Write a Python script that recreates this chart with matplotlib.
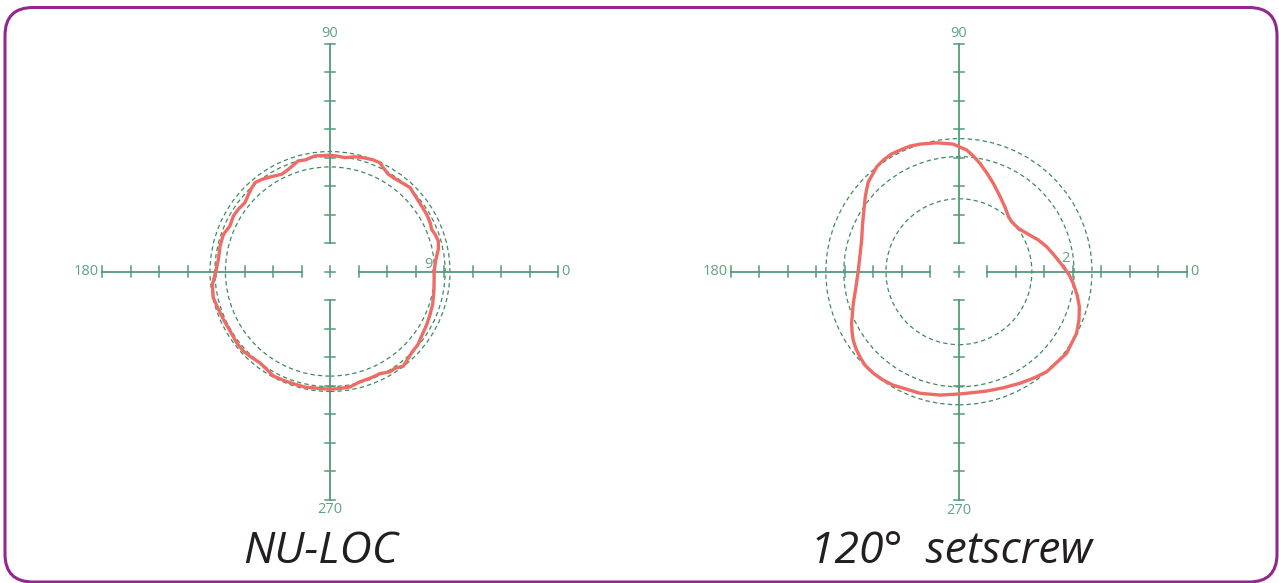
import numpy as np
import matplotlib.pyplot as plt
from matplotlib.patches import FancyBboxPatch, Circle

# Runout traces (angle in degrees, radius in tick units)

nuloc_angle = [0, 6.6, 11.6, 15.7, 19.5, 22.5, 26, 30.6, 35.5, 39.6, 43.4, 46.3, 51.1, 56, 59,
               62.8, 65.3, 68.8, 73.7, 77.7, 82.5, 86.7, 90, 97.4, 102.6, 106, 112.2, 116.4,
               121.6, 126.5, 130.2, 133.1, 136.6, 141, 145.8, 150.1, 155.5, 160.8, 166.9, 173.8,
               179.7, 186.2, 192.6, 197.8, 204.1, 210.8, 217.3, 222.5, 227.7, 232.5, 237.1,
               241.5, 247.7, 252.8, 257.8, 264.3, 270, 274.9, 279.8, 285.2, 290.5, 296.1, 300.9,
               303.9, 307.8, 311.4, 315.2, 320.5, 324.9, 331.4, 336.8, 342.3, 349.4, 356.6]
nuloc_radius = [3.65, 3.74, 3.88, 3.95, 3.91, 3.86, 3.91, 3.94, 3.95, 3.98, 4.02, 4.07, 4.01, 3.97, 3.98,
                4.09, 4.20, 4.20, 4.16, 4.12, 4.03, 4.06, 4.08, 4.09, 4.01, 4.04, 3.87, 3.81,
                3.91, 4.02, 4.08, 4.02, 3.94, 3.84, 3.89, 3.91, 3.86, 3.96, 3.96, 3.94,
                4.00, 4.15, 4.20, 4.14, 4.10, 4.08, 4.12, 4.13, 4.08, 4.04, 4.09,
                4.17, 4.15, 4.14, 4.15, 4.12, 4.13, 4.12, 4.11, 4.01, 4.00, 3.99, 4.10,
                4.09, 4.20, 4.11, 4.04, 4.01, 3.93, 3.87, 3.82, 3.78, 3.71, 3.66]
nuloc_rings = [3.67, 4.04, 4.21]
nuloc_mark = '9'

setscrew_angle = [2.7, 9.3, 15.9, 21.8, 27.3, 36.1, 43.5, 48.4, 54.7, 62.2, 68.8, 74.4, 79.0,
                  82.9, 86.4, 92.5, 99.8, 107.0, 111.3, 115.9, 119.8, 124.1, 128.0, 131.1,
                  135.2, 138.5, 141.3, 145.5, 153.4, 162.0, 170.4, 179.1, 188.3, 196.7, 205.7,
                  209.3, 212.9, 216.7, 220.6, 224.8, 229.9, 235.1, 239.9, 252.2, 261.2, 270.5,
                  276.8, 283.1, 290.9, 298.6, 304.9, 311.2, 322.8, 332.3, 338.1, 343.8, 348.8,
                  354.2, 358.3]
setscrew_radius = [3.67, 3.41, 3.20, 3.00, 2.80, 2.58, 2.55, 2.61, 2.79, 3.04, 3.33, 3.61, 3.87,
                   4.09, 4.28, 4.48, 4.59, 4.68, 4.73, 4.74, 4.76, 4.73, 4.68, 4.58,
                   4.48, 4.33, 4.21, 4.03, 3.78, 3.59, 3.52, 3.53, 3.65, 3.87, 4.18,
                   4.30, 4.42, 4.51, 4.58, 4.65, 4.66, 4.64, 4.60, 4.48, 4.38, 4.29,
                   4.27, 4.30, 4.36, 4.46, 4.56, 4.67, 4.74, 4.66, 4.54, 4.40, 4.23,
                   4.03, 3.87]
setscrew_rings = [2.56, 4.04, 4.67]
setscrew_mark = '2'

axis_ticks = [1, 2, 3, 4, 5, 6, 7, 8]
angle_labels = ['0', '90', '180', '270']
titles = ['NU-LOC', '120°  setscrew']

axis_green = '#529b76'
text_green = '#5fa382'
ring_green = '#3f8a62'
trace_red = '#ef6b66'

fig = plt.figure(figsize=(12.79, 5.83), dpi=100)


def polar_panel(ax, angle, radius, rings, mark, mark_pos):
    ax.set_xlim(-9, 9)
    ax.set_ylim(-9, 9)
    ax.set_aspect('equal')
    ax.axis('off')

    # cross-hair axes with ticks, gap in the middle
    t = np.array(axis_ticks, dtype=float)
    h = 0.19
    for d in [0, 90, 180, 270]:
        c, s = np.cos(np.radians(d)), np.sin(np.radians(d))
        ax.plot([t[0] * c, t[-1] * c], [t[0] * s, t[-1] * s], color=axis_green, lw=1.3)
        for r in t:
            ax.plot([r * c - h * s, r * c + h * s], [r * s - h * c, r * s + h * c],
                    color=axis_green, lw=1.1)
    ax.plot([-h, h], [0, 0], color=axis_green, lw=1.1)
    ax.plot([0, 0], [-h, h], color=axis_green, lw=1.1)

    # angle labels at the ends of the axes
    kw = dict(color=text_green, fontsize=10.5, family='Open Sans')
    ax.text(t[-1] + 0.12, 0, angle_labels[0], ha='left', va='center', **kw)
    ax.text(0, t[-1] + 0.1, angle_labels[1], ha='center', va='bottom', **kw)
    ax.text(-t[-1] - 0.12, 0, angle_labels[2], ha='right', va='center', **kw)
    ax.text(0, -t[-1] - 0.1, angle_labels[3], ha='center', va='top', **kw)

    for rr in rings:
        ax.add_patch(Circle((0, 0), rr, fill=False, ec=ring_green, lw=0.9,
                            linestyle=(0, (3.5, 2.5))))

    a = np.radians(np.append(angle, angle[0]))
    r = np.append(radius, radius[0])
    ax.plot(r * np.cos(a), r * np.sin(a), color=trace_red, lw=2.4, solid_joinstyle='round')

    ax.text(mark_pos[0], mark_pos[1], mark, ha='center', va='center',
            color=text_green, fontsize=10.5, family='Open Sans')


ax1 = fig.add_axes([0.05747, 0.09434, 0.4011, 0.8799])
polar_panel(ax1, nuloc_angle, nuloc_radius, nuloc_rings, nuloc_mark, (3.44, 0.26))

ax2 = fig.add_axes([0.5492, 0.0940, 0.4011, 0.8799])
polar_panel(ax2, setscrew_angle, setscrew_radius, setscrew_rings, setscrew_mark, (3.75, 0.48))

fig.text(321 / 1279, 20 / 583, titles[0], ha='center', va='baseline', fontsize=32,
         style='italic', family='Open Sans', color='#231f20')
fig.text(951 / 1279, 20 / 583, titles[1], ha='center', va='baseline', fontsize=32,
         style='italic', family='Open Sans', color='#231f20')

# rounded purple frame
frame = FancyBboxPatch((0.05, 0.01), 12.72, 5.745, boxstyle='round,pad=0,rounding_size=0.28',
                       transform=fig.dpi_scale_trans, fill=False, ec='#93278f', lw=2.2)
fig.add_artist(frame)

fig.savefig('out.png', dpi=100)
